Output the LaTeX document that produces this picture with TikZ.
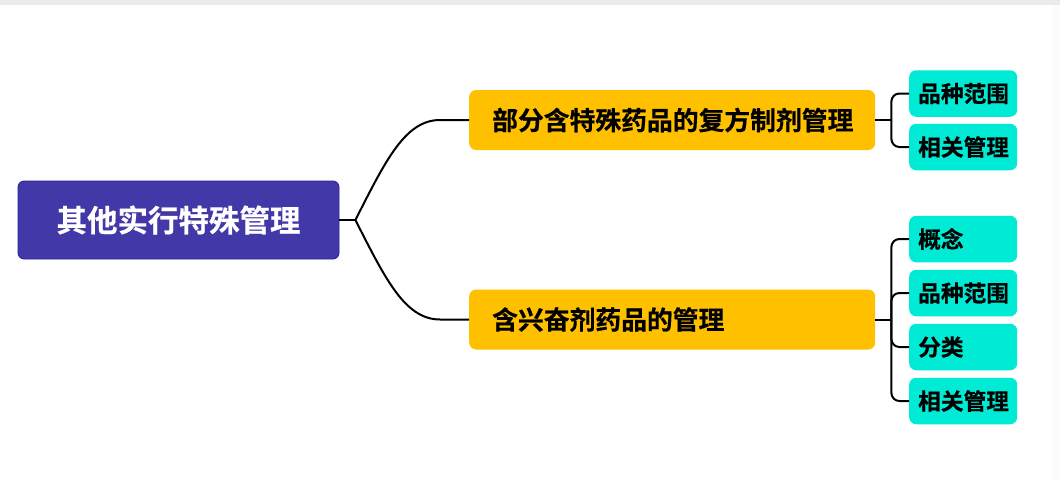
\documentclass[tikz,border=0pt]{standalone}
\usepackage{fontspec}
\newfontfamily\cjk{Noto Sans CJK SC}[BoldFont={Noto Sans CJK SC Bold},BoldFeatures={FakeBold=0.5}]
\definecolor{rootfill}{HTML}{4338A8}
\definecolor{rootdraw}{HTML}{2A1FA0}
\definecolor{orangefill}{HTML}{FFC000}
\definecolor{cyanfill}{HTML}{00EBD6}
\definecolor{topbar}{HTML}{EBEBEB}
\tikzset{
  rootbox/.style={draw=rootdraw, line width=0.8pt, fill=rootfill, rounded corners=6pt,
    minimum width=321pt, minimum height=78pt, inner sep=0pt, text=white,
    font=\cjk\bfseries\fontsize{30.5}{33}\selectfont},
  obox/.style={fill=orangefill, rounded corners=7pt, minimum height=60pt,
    inner xsep=23pt, inner ysep=0pt, text width=360pt, align=left, anchor=west,
    font=\cjk\bfseries\fontsize{25.8}{28}\selectfont},
  cbox/.style={fill=cyanfill, rounded corners=7pt, minimum height=46.5pt,
    inner xsep=9pt, inner ysep=0pt, text width=90pt, align=left, anchor=west,
    font=\cjk\bfseries\fontsize{22.7}{25}\selectfont},
  link/.style={draw=black, line width=2pt},
}
\begin{document}
\begin{tikzpicture}[x=1pt,y=-1pt]
\useasboundingbox (0,0) rectangle (1060,480);
\fill[white] (0,0) rectangle (1060,480);
\fill[topbar] (0,0) rectangle (1060,5);
\fill[black!1] (1052,5) rectangle (1060,480);

\node[rootbox] (root) at (178.5,220) {其他实行特殊管理};
\node[obox] (o1) at (469,120) {部分含特殊药品的复方制剂管理};
\node[obox] (o2) at (469,319.5) {含兴奋剂药品的管理};

\node[cbox] (c1) at (909,93.5) {品种范围};
\node[cbox] (c2) at (909,147) {相关管理};
\node[cbox] (c3) at (909,239) {概念};
\node[cbox] (c4) at (909,293) {品种范围};
\node[cbox] (c5) at (909,347) {分类};
\node[cbox] (c6) at (909,401) {相关管理};

\coordinate (j0) at ([xshift=16pt]root.east);
\coordinate (j1) at ([xshift=16pt]o1.east);
\coordinate (j2) at ([xshift=16pt]o2.east);

\draw[link] (root.east) -- (j0);
\draw[link] (j0) .. controls ++(30,-59) and ([xshift=-64pt]o1.west) .. ([xshift=-29pt]o1.west) -- (o1.west);
\draw[link] (j0) .. controls ++(30,59) and ([xshift=-64pt]o2.west) .. ([xshift=-29pt]o2.west) -- (o2.west);

\draw[link] (o1.east) -- (j1);
\draw[link, rounded corners=8pt] (j1) |- (c1.west);
\draw[link, rounded corners=8pt] (j1) |- (c2.west);

\draw[link] (o2.east) -- (j2);
\foreach \c in {c3,c4,c5,c6}
  \draw[link, rounded corners=8pt] (j2) |- (\c.west);
\end{tikzpicture}
\end{document}
